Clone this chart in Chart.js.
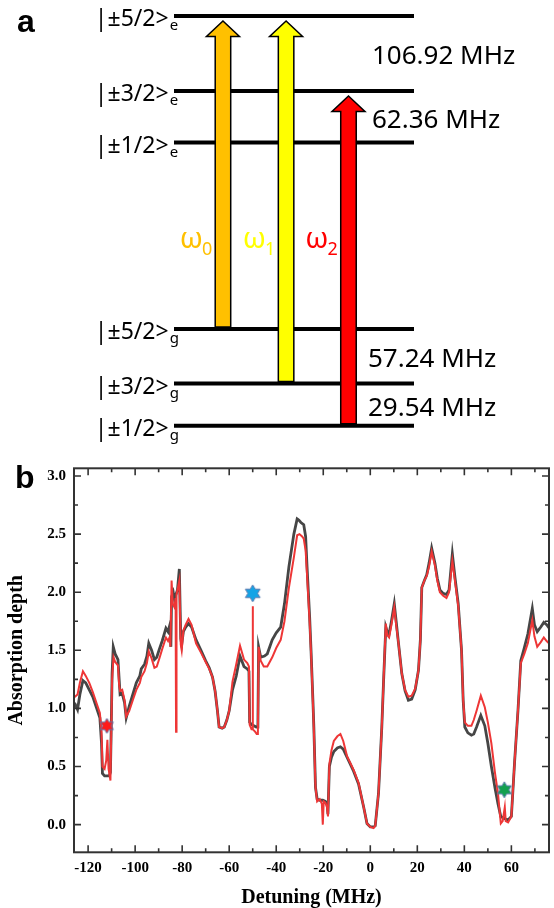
<!DOCTYPE html>
<html>
<head>
<meta charset="utf-8">
<script src="https://cdn.jsdelivr.net/npm/chart.js@4.4.1/dist/chart.umd.min.js"></script>
<style>
  body { margin: 0; background: #fff; }
  #page { position: relative; width: 554px; height: 908px; overflow: hidden; }
  #page canvas { position: absolute; left: 0; }
  .tag { position: absolute; font: bold 32px "Liberation Sans", Arial, sans-serif; line-height: 32px; color: #000; }
</style>
</head>
<body>
<div id="page">
  <canvas id="levels" width="554" height="450" style="top:0"></canvas>
  <canvas id="spectrum" width="554" height="458" style="top:450px"></canvas>
  <div class="tag" style="left:17px;top:5px">a</div>
  <div class="tag" style="left:15px;top:461px">b</div>
</div>
<script>
const SANS = '"Noto Sans", "Liberation Sans", sans-serif';
const SERIF = '"Liberation Serif", "Times New Roman", serif';

// ---- panel a: level scheme (heights are schematic, not to scale) ----
const levelNames = ['|±1/2>', '|±3/2>', '|±5/2>', '|±1/2>', '|±3/2>', '|±5/2>'];
const levelSubs = ['g', 'g', 'g', 'e', 'e', 'e'];
const levelHeights = [0, 10.3, 23.6, 69.1, 81.7, 100];
const levelLabelColumn = -3.3;

// splittings, written between neighbouring levels
const splitLabels = ['29.54 MHz', '57.24 MHz', '62.36 MHz', '106.92 MHz'];
const splitPairs = [[0, 1], [1, 2], [3, 4], [4, 5]];
const splitColumn = [8.08, 8.08, 8.25, 8.25];

// pump transitions ω0, ω1, ω2
const pumpSubs = ['0', '1', '2'];
const pumpFrom = [2, 1, 0];
const pumpTo = [5, 5, 4];
const pumpColumn = [2.04, 4.67, 7.27];
const pumpColors = ['#FFC000', '#FFFF00', '#FF0000'];
const pumpLabelHeight = 43.3;

// ---- panel b: absorption spectra ----
const xTickValues = [-120, -100, -80, -60, -40, -20, 0, 20, 40, 60];
const yTickValues = [0, 0.5, 1, 1.5, 2, 2.5, 3];

const darkDetuning = [
  -126.5, -125.6, -124.5, -123.5, -122.2, -121, -119.5, -118, -116.5, -115,
  -114.3, -113.9, -113, -112, -111, -110.5, -110.2, -109.8, -109.3, -108.5,
  -107.3, -106.8, -106.4, -105.5, -104.5, -103.8, -102.5, -101, -99.5, -98,
  -97.4, -96, -95, -94.2, -93, -91.8, -90.8, -89.7, -88.5, -86.9,
  -86, -85.2, -84.8, -84.5, -83.8, -83.3, -82, -81.2, -80.6, -80.2,
  -79.5, -78.5, -77.3, -76, -74.1, -72, -70, -68.5, -67.1, -66,
  -65, -64.3, -63, -62.1, -61, -60, -58.6, -57, -55.4, -53.7,
  -52.3, -51.6, -51.3, -50.5, -49.5, -48.5, -47.8, -47.5, -46.6, -45,
  -43.8, -41.7, -40, -38.1, -36.5, -34.6, -32.5, -31.1, -30.4, -29.5,
  -28.3, -27.5, -26.9, -25.8, -25.2, -24.4, -24, -23.3, -22.6, -21.5,
  -20.2, -19.1, -18.4, -18, -17.4, -16.5, -15.5, -14, -12.7, -11.5,
  -9.9, -8.5, -7.1, -5, -2.8, -1.4, 0, 1.4, 2.1, 3.5,
  4.9, 5.6, 6.6, 7.2, 8, 9, 10.2, 11, 12, 13.4,
  14.8, 16.2, 17.6, 19.1, 20.5, 21.3, 21.9, 23, 24, 25,
  26.1, 27.5, 28.5, 29.6, 31, 32.4, 33.5, 34.9, 36, 37.4,
  38.8, 39.5, 40.2, 41.5, 43, 44, 45.2, 47, 48.7, 50,
  51.5, 53, 54.3, 55.5, 57.2, 58.6, 60, 61.4, 62.8, 64,
  65.5, 67, 68.9, 69.8, 71, 72.5, 73.8, 75, 76.5
];
const darkDepth = [
  1.05, 1.04, 0.99, 1.12, 1.24, 1.22, 1.16, 1.10, 1.01, 0.92,
  0.70, 0.44, 0.42, 0.42, 0.42, 0.45, 0.80, 1.30, 1.53, 1.47,
  1.42, 1.25, 1.12, 1.13, 1.05, 0.92, 1.02, 1.12, 1.22, 1.28,
  1.34, 1.38, 1.45, 1.56, 1.50, 1.42, 1.44, 1.51, 1.58, 1.69,
  1.66, 1.72, 1.53, 1.96, 2.00, 1.94, 2.02, 2.20, 1.60, 1.55,
  1.66, 1.70, 1.73, 1.70, 1.59, 1.50, 1.41, 1.35, 1.27, 1.15,
  0.98, 0.84, 0.83, 0.84, 0.90, 0.98, 1.16, 1.28, 1.45, 1.36,
  1.34, 1.32, 0.88, 0.86, 0.85, 0.84, 0.84, 1.53, 1.44, 1.45,
  1.47, 1.59, 1.65, 1.70, 1.90, 2.22, 2.50, 2.63, 2.62, 2.60,
  2.58, 2.48, 2.22, 1.79, 1.50, 1.07, 0.84, 0.32, 0.22, 0.21,
  0.21, 0.20, 0.18, 0.09, 0.50, 0.58, 0.63, 0.66, 0.67, 0.65,
  0.58, 0.52, 0.46, 0.35, 0.15, 0.01, -0.02, -0.02, -0.01, 0.27,
  0.84, 1.21, 1.70, 1.66, 1.64, 1.75, 1.90, 1.75, 1.56, 1.30,
  1.15, 1.07, 1.08, 1.16, 1.33, 1.59, 2.04, 2.10, 2.15, 2.25,
  2.38, 2.25, 2.12, 2.02, 1.99, 1.98, 2.02, 2.33, 2.13, 1.90,
  1.50, 1.07, 0.84, 0.79, 0.77, 0.78, 0.84, 0.94, 0.85, 0.70,
  0.50, 0.32, 0.18, 0.07, 0.05, 0.04, 0.07, 0.55, 0.98, 1.41,
  1.52, 1.64, 1.86, 1.72, 1.66, 1.70, 1.74, 1.72, 1.68
];

const redDetuning = [
  -126.5, -125.6, -124.5, -123.5, -122.2, -121, -119.5, -118, -116.5, -115,
  -114.3, -113.9, -113, -112.3, -111.8, -111.3, -110.5, -110.2, -109.8, -109.2,
  -108.5, -107.3, -106.8, -106.4, -105.5, -104.5, -103.8, -102.5, -101, -99.5,
  -98, -97.4, -96, -95, -94.2, -93, -91.8, -90.8, -89.7, -88.5,
  -86.9, -86, -85.2, -85, -84.5, -84, -83.3, -82.8, -82.6, -82.4,
  -81.2, -80.6, -80.2, -79.5, -78.5, -77.3, -76, -74.1, -72, -70,
  -68.5, -67.1, -66, -65, -64.3, -63, -62.1, -61, -60, -58.6,
  -57, -55.4, -53.7, -52.3, -51.6, -51.3, -50.5, -50.1, -50, -49.9,
  -49, -48.3, -47.8, -47.5, -46.6, -45.3, -43.8, -41.7, -40, -38.1,
  -36.5, -34.6, -32.5, -31.1, -30.1, -29, -28.3, -27.5, -26.9, -25.8,
  -25.2, -24.4, -24, -23.3, -22.6, -21.5, -20.6, -20.2, -19.8, -19.1,
  -18.4, -18, -17.4, -16.5, -15.5, -14, -12.7, -11.5, -9.9, -8.5,
  -7.1, -5, -2.8, -1.4, 0, 1.4, 2.1, 3.5, 4.9, 5.6,
  6.6, 7.2, 8, 9, 10.2, 11, 12, 13.4, 14.8, 16.2,
  17.6, 19.1, 20.5, 21.3, 21.9, 23, 24, 25, 26.1, 27.5,
  28.5, 29.6, 31, 32.4, 33.5, 34.9, 36, 37.4, 38.8, 39.5,
  40.2, 41.5, 43, 44, 45.2, 47, 48.7, 50, 51.5, 53,
  54.3, 55.5, 56.3, 57.2, 57.6, 58.6, 60, 61.4, 62.8, 64,
  65.5, 67, 68.9, 69.8, 71, 72.5, 73.8, 75, 76.5
];
const redDepth = [
  1.10, 1.10, 1.12, 1.22, 1.32, 1.28, 1.22, 1.14, 1.05, 0.96,
  0.80, 0.50, 0.48, 0.55, 0.73, 0.48, 0.38, 0.75, 1.25, 1.44,
  1.40, 1.37, 1.20, 1.15, 1.16, 1.07, 0.93, 0.98, 1.07, 1.16,
  1.22, 1.27, 1.32, 1.39, 1.49, 1.43, 1.35, 1.36, 1.43, 1.51,
  1.61, 1.58, 1.62, 1.53, 2.10, 1.90, 1.87, 1.95, 0.80, 1.98,
  2.10, 1.55, 1.50, 1.67, 1.72, 1.77, 1.72, 1.56, 1.48, 1.40,
  1.34, 1.27, 1.15, 0.98, 0.84, 0.83, 0.84, 0.90, 0.98, 1.23,
  1.38, 1.54, 1.42, 1.39, 1.36, 0.86, 0.82, 0.82, 1.88, 0.82,
  0.80, 0.78, 0.78, 1.53, 1.41, 1.36, 1.36, 1.44, 1.52, 1.59,
  1.75, 2.04, 2.30, 2.49, 2.50, 2.48, 2.46, 2.36, 2.15, 1.75,
  1.48, 1.05, 0.82, 0.32, 0.20, 0.22, 0.18, 0.00, 0.20, 0.19,
  0.15, 0.07, 0.52, 0.64, 0.72, 0.76, 0.78, 0.72, 0.59, 0.53,
  0.47, 0.36, 0.15, 0.01, -0.02, -0.03, -0.01, 0.27, 0.84, 1.21,
  1.73, 1.63, 1.61, 1.72, 1.87, 1.72, 1.56, 1.30, 1.16, 1.10,
  1.11, 1.17, 1.33, 1.59, 2.04, 2.10, 2.14, 2.22, 2.35, 2.23,
  2.10, 2.00, 1.97, 1.95, 2.00, 2.27, 2.10, 1.88, 1.50, 1.07,
  0.88, 0.85, 0.85, 0.90, 0.98, 1.11, 1.01, 0.88, 0.70, 0.45,
  0.27, 0.01, 0.03, 0.15, 0.03, 0.02, 0.07, 0.55, 0.98, 1.39,
  1.47, 1.56, 1.76, 1.62, 1.53, 1.57, 1.61, 1.58, 1.55
];

// marked transitions
const starDetuning = [-112, -50, 57];
const starDepth = [0.85, 1.99, 0.30];
const starColors = ['#FF1A1A', '#12A3E6', '#13A04F'];
const starSizes = [15, 17, 16];

function toPoints(xs, ys) {
  return xs.map((x, i) => ({ x, y: ys[i] }));
}

// six-pointed star sprite used as a point style
function hexagram(fill, size) {
  const c = document.createElement('canvas');
  c.width = c.height = size + 2;
  const g = c.getContext('2d');
  const cx = c.width / 2, cy = c.height / 2, r = size / 2;
  g.beginPath();
  for (let i = 0; i < 12; i++) {
    const a = -Math.PI / 2 + i * Math.PI / 6;
    const rr = i % 2 === 0 ? r : r / Math.sqrt(3);
    const px = cx + rr * Math.cos(a), py = cy + rr * Math.sin(a);
    if (i === 0) g.moveTo(px, py); else g.lineTo(px, py);
  }
  g.closePath();
  g.fillStyle = fill;
  g.fill();
  g.strokeStyle = '#5a7bb0';
  g.lineWidth = 1;
  g.stroke();
  return c;
}

function drawArrow(ctx, cx, yBase, yTip, fill) {
  const shaft = 7.75, head = 16.5, headLen = 15.5;
  const yNeck = yTip + headLen;
  ctx.beginPath();
  ctx.moveTo(cx - shaft, yBase);
  ctx.lineTo(cx - shaft, yNeck);
  ctx.lineTo(cx - head, yNeck);
  ctx.lineTo(cx, yTip);
  ctx.lineTo(cx + head, yNeck);
  ctx.lineTo(cx + shaft, yNeck);
  ctx.lineTo(cx + shaft, yBase);
  ctx.closePath();
  ctx.fillStyle = fill;
  ctx.fill();
  ctx.lineWidth = 1.5;
  ctx.strokeStyle = '#000';
  ctx.stroke();
}

// arrows and all lettering of the level scheme
const levelArt = {
  id: 'levelArt',
  afterDatasetsDraw(chart) {
    const { ctx, scales: { x, y } } = chart;
    ctx.save();

    pumpColumn.forEach((col, i) => {
      const cx = x.getPixelForValue(col);
      const yBase = y.getPixelForValue(levelHeights[pumpFrom[i]]) - 2;
      const yTip = y.getPixelForValue(levelHeights[pumpTo[i]]) + 5;
      drawArrow(ctx, cx, yBase, yTip, pumpColors[i]);

      const right = cx - 7.75 - 3;
      const base = y.getPixelForValue(pumpLabelHeight);
      ctx.fillStyle = pumpColors[i];
      ctx.textAlign = 'right';
      ctx.textBaseline = 'alphabetic';
      ctx.font = '18px ' + SANS;
      ctx.fillText(pumpSubs[i], right, base + 7);
      const w = ctx.measureText(pumpSubs[i]).width;
      ctx.font = '29px ' + SANS;
      ctx.fillText('ω', right - w + 1, base);
    });

    ctx.fillStyle = '#000';
    ctx.textAlign = 'left';
    ctx.textBaseline = 'alphabetic';
    const lx = x.getPixelForValue(levelLabelColumn);
    levelNames.forEach((name, i) => {
      const py = y.getPixelForValue(levelHeights[i]);
      ctx.font = '23px ' + SANS;
      ctx.fillText(name, lx, py + 10);
      const w = ctx.measureText(name).width;
      ctx.font = '15px ' + SANS;
      ctx.fillText(levelSubs[i], lx + w + 1, py + 14);
    });

    ctx.font = '26px ' + SANS;
    splitLabels.forEach((label, i) => {
      const [a, b] = splitPairs[i];
      const mid = (y.getPixelForValue(levelHeights[a]) + y.getPixelForValue(levelHeights[b])) / 2;
      ctx.fillText(label, x.getPixelForValue(splitColumn[i]), mid + 11);
    });
    ctx.restore();
  }
};

new Chart(document.getElementById('levels'), {
  type: 'line',
  data: {
    datasets: levelHeights.map(h => ({
      data: [{ x: 0, y: h }, { x: 10, y: h }],
      borderColor: '#000',
      borderWidth: 4,
      pointRadius: 0,
      clip: false
    }))
  },
  options: {
    responsive: false,
    animation: false,
    events: [],
    layout: { padding: { left: 174, right: 140, top: 16, bottom: 24.3 } },
    plugins: { legend: { display: false }, tooltip: { enabled: false } },
    scales: {
      x: { type: 'linear', min: 0, max: 10, display: false },
      y: { type: 'linear', min: 0, max: 100, display: false }
    }
  },
  plugins: [levelArt]
});

// inward major/minor ticks on all four sides, frame and axis titles
const frame = {
  id: 'frame',
  afterDatasetsDraw(chart) {
    const { ctx, chartArea: a, scales: { x, y } } = chart;
    const xMinor = xTickValues.map(v => v + 10).filter(v => v > x.min && v < x.max);
    const yMinor = yTickValues.map(v => v + 0.25).filter(v => v > y.min && v < y.max);
    ctx.save();
    ctx.strokeStyle = '#333';
    ctx.lineWidth = 1.6;
    ctx.beginPath();
    const xMark = (v, len) => {
      const p = x.getPixelForValue(v);
      ctx.moveTo(p, a.bottom); ctx.lineTo(p, a.bottom - len);
      ctx.moveTo(p, a.top); ctx.lineTo(p, a.top + len);
    };
    const yMark = (v, len) => {
      const p = y.getPixelForValue(v);
      ctx.moveTo(a.left, p); ctx.lineTo(a.left + len, p);
      ctx.moveTo(a.right, p); ctx.lineTo(a.right - len, p);
    };
    xTickValues.forEach(v => xMark(v, 7));
    xMinor.forEach(v => xMark(v, 4));
    yTickValues.forEach(v => yMark(v, 7));
    yMinor.forEach(v => yMark(v, 4));
    ctx.stroke();
    ctx.lineWidth = 2;
    ctx.strokeRect(a.left, a.top, a.right - a.left, a.bottom - a.top);

    ctx.fillStyle = '#000';
    ctx.font = 'bold 20px ' + SERIF;
    ctx.textAlign = 'center';
    ctx.textBaseline = 'alphabetic';
    ctx.fillText('Detuning (MHz)', (a.left + a.right) / 2, a.bottom + 51);
    ctx.translate(a.left - 52, (a.top + a.bottom) / 2 - 10);
    ctx.rotate(-Math.PI / 2);
    ctx.fillText('Absorption depth', 0, 0);
    ctx.restore();
  }
};

const tickFont = { family: SERIF, size: 15, weight: 'bold' };

new Chart(document.getElementById('spectrum'), {
  type: 'line',
  data: {
    datasets: [
      {
        data: toPoints(starDetuning, starDepth),
        showLine: false,
        pointStyle: starColors.map((c, i) => hexagram(c, starSizes[i])),
        order: 0
      },
      {
        data: toPoints(redDetuning, redDepth),
        borderColor: '#EE3636',
        borderWidth: 2,
        pointRadius: 0,
        order: 1
      },
      {
        data: toPoints(darkDetuning, darkDepth),
        borderColor: '#464646',
        borderWidth: 2.8,
        pointRadius: 0,
        order: 2
      }
    ]
  },
  options: {
    responsive: false,
    animation: false,
    events: [],
    layout: { padding: { top: 18.3, right: 3, left: 0, bottom: 0 } },
    plugins: { legend: { display: false }, tooltip: { enabled: false } },
    scales: {
      x: {
        type: 'linear',
        min: -126,
        max: 76,
        grid: { display: false, drawTicks: false },
        border: { display: false },
        afterBuildTicks: s => { s.ticks = xTickValues.map(v => ({ value: v })); },
        afterFit: s => { s.height = 55.7; },
        ticks: { padding: 7, color: '#000', font: tickFont, maxRotation: 0, autoSkip: false, callback: v => String(v) }
      },
      y: {
        type: 'linear',
        min: -0.238,
        max: 3.066,
        grid: { display: false, drawTicks: false },
        border: { display: false },
        afterBuildTicks: s => { s.ticks = yTickValues.map(v => ({ value: v })); },
        afterFit: s => { s.width = 74; },
        ticks: { padding: 8, color: '#000', font: tickFont, autoSkip: false, callback: v => v.toFixed(1) }
      }
    }
  },
  plugins: [frame]
});
</script>
</body>
</html>
